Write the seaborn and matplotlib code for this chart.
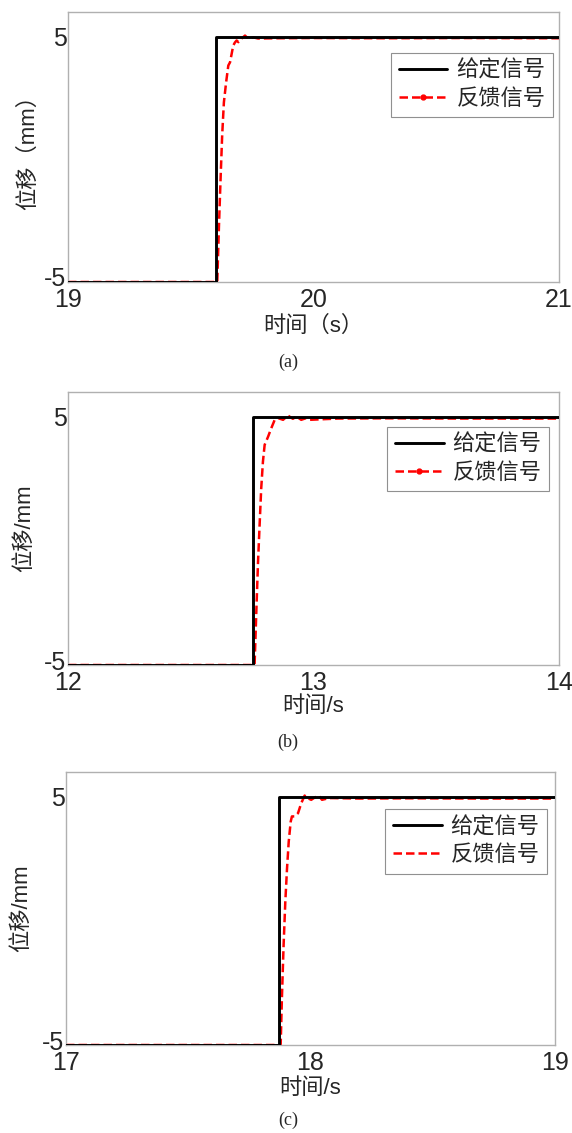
import numpy as np
import pandas as pd
import matplotlib
matplotlib.use("Agg")
import matplotlib.pyplot as plt
import matplotlib.transforms as mtransforms
import seaborn as sns
from matplotlib.lines import Line2D

sns.set_style("white")
plt.rcParams['font.family'] = ['Liberation Sans', 'Noto Sans CJK SC', 'DejaVu Sans']

# ---------------- data ----------------
# panel (a)
a_xlim = [19, 21]
a_xticks = [19, 20, 21]
a_ref_t = [19.0, 19.603, 19.603, 21.0]
a_ref_y = [-5, -5, 5, 5]
a_fb_t = [19.0, 19.608, 19.615, 19.622, 19.628, 19.635, 19.644, 19.653, 19.660,
          19.673, 19.680, 19.687, 19.694, 19.707, 19.721, 19.728, 19.741, 19.754,
          19.774, 19.85, 20.0, 20.3, 20.6, 21.0]
a_fb_y = [-5, -5, -2.68, -0.65, 0.98, 2.32, 3.13, 3.82, 3.95,
          4.63, 4.76, 4.84, 4.77, 4.92, 5.04, 4.97, 4.92, 4.97,
          4.92, 4.93, 4.94, 4.93, 4.94, 4.93]

# panel (b)
b_xlim = [12, 14]
b_xticks = [12, 13, 14]
b_ref_t = [12.0, 12.754, 12.754, 14.0]
b_ref_y = [-5, -5, 5, 5]
b_fb_t = [12.0, 12.760, 12.767, 12.774, 12.781, 12.787, 12.794, 12.801, 12.815,
          12.828, 12.842, 12.855, 12.876, 12.896, 12.916, 12.930, 12.950, 12.971,
          12.984, 13.1, 13.3, 13.6, 14.0]
b_fb_y = [-5, -5, -2.88, -0.86, 0.76, 2.11, 3.19, 3.87, 4.20,
          4.54, 4.88, 4.95, 4.88, 5.05, 4.92, 5.01, 4.88, 4.95,
          4.88, 4.93, 4.94, 4.93, 4.93]

# panel (c)
c_xlim = [17, 19]
c_xticks = [17, 18, 19]
c_ref_t = [17.0, 17.871, 17.871, 19.0]
c_ref_y = [-5, -5, 5, 5]
c_fb_t = [17.0, 17.878, 17.883, 17.890, 17.897, 17.904, 17.911, 17.919, 17.924,
          17.935, 17.949, 17.962, 17.976, 17.987, 18.003, 18.017, 18.033, 18.047,
          18.064, 18.085, 18.2, 18.4, 18.7, 19.0]
c_fb_y = [-5, -5, -3.12, -0.97, 0.78, 2.12, 3.20, 4.00, 4.21,
          4.21, 4.34, 4.74, 5.05, 4.95, 4.88, 4.97, 5.05, 4.88,
          4.92, 4.95, 4.93, 4.94, 4.93, 4.93]

legend_labels = ["给定信号", "反馈信号"]
ylabels = ["位移（mm）", "位移/mm", "位移/mm"]
xlabels = ["时间（s）", "时间/s", "时间/s"]
captions = ["(a)", "(b)", "(c)"]

# ---------------- layout ----------------
W, H = 572, 1133
fig = plt.figure(figsize=(W / 100, H / 100), dpi=100)

panels = [
    dict(box=(68, 12, 559, 282), xlim=a_xlim, xt=a_xticks, rt=a_ref_t, ry=a_ref_y,
         ft=a_fb_t, fy=a_fb_y, marker=True, leg=(0.988, 0.848),
         ylx=28, xly=326, capy=362),
    dict(box=(68, 392, 559, 665), xlim=b_xlim, xt=b_xticks, rt=b_ref_t, ry=b_ref_y,
         ft=b_fb_t, fy=b_fb_y, marker=True, leg=(0.980, 0.872),
         ylx=25, xly=707, capy=742),
    dict(box=(66, 772, 555, 1045), xlim=c_xlim, xt=c_xticks, rt=c_ref_t, ry=c_ref_y,
         ft=c_fb_t, fy=c_fb_y, marker=False, leg=(0.984, 0.864),
         ylx=22, xly=1088, capy=1120),
]

cjk = ['Liberation Sans', 'Noto Sans CJK SC']
for i, p in enumerate(panels):
    x0, y0, x1, y1 = p['box']
    ax = fig.add_axes([x0 / W, 1 - y1 / H, (x1 - x0) / W, (y1 - y0) / H])
    ref = pd.DataFrame({"t": p['rt'], "y": p['ry']})
    fb = pd.DataFrame({"t": p['ft'], "y": p['fy']})
    sns.lineplot(data=fb, x="t", y="y", ax=ax, sort=False, estimator=None,
                 color="red", lw=1.8, linestyle=(0, (3.4, 1.6)), zorder=2)
    sns.lineplot(data=ref, x="t", y="y", ax=ax, sort=False, estimator=None,
                 color="black", lw=2.1, zorder=3)
    ax.set_xlim(p['xlim'])
    ax.set_ylim(-5, 6)
    ax.set_xticks(p['xt'])
    ax.set_yticks([-5, 5])
    ax.set_xticklabels([str(v) for v in p['xt']])
    ax.set_yticklabels(["-5", "5"])
    ax.tick_params(direction='in', length=4, width=0.8, color='#b0b0b0',
                   labelsize=18)
    ax.tick_params(axis='y', pad=1)
    ax.tick_params(axis='x', pad=4)
    # lift the "-5" label a little so it sits just above the first x label
    off = mtransforms.ScaledTranslation(0, 5 / 100, fig.dpi_scale_trans)
    ylab0 = ax.get_yticklabels()[0]
    ylab0.set_transform(ylab0.get_transform() + off)
    for s in ax.spines.values():
        s.set_color('#b0b0b0')
        s.set_linewidth(1.0)
    ax.set_xlabel("")
    ax.set_ylabel("")
    fig.text(p['ylx'] / W, 1 - ((y0 + y1) / 2) / H, ylabels[i], rotation=90,
             ha='center', va='center', fontsize=16, family=cjk)
    fig.text(((x0 + x1) / 2) / W, 1 - p['xly'] / H, xlabels[i],
             ha='center', va='center', fontsize=16, family=cjk)
    fig.text(288 / W, 1 - p['capy'] / H, captions[i], ha='center', va='center',
             fontsize=13, family='Liberation Serif')
    handles = [
        Line2D([], [], color='black', lw=2.1),
        Line2D([], [], color='red', lw=1.8, linestyle=(0, (3.4, 1.6)),
               marker='.' if p['marker'] else None, markersize=7),
    ]
    leg = ax.legend(handles, legend_labels, loc='upper right',
                    bbox_to_anchor=p['leg'], frameon=True, fancybox=False,
                    edgecolor='#909090', framealpha=1,
                    prop={'family': cjk, 'size': 16},
                    handlelength=2.2, handletextpad=0.4, labelspacing=0.3,
                    borderpad=0.35, borderaxespad=0)
    leg.get_frame().set_linewidth(0.8)

fig.savefig("out.png", dpi=100)
